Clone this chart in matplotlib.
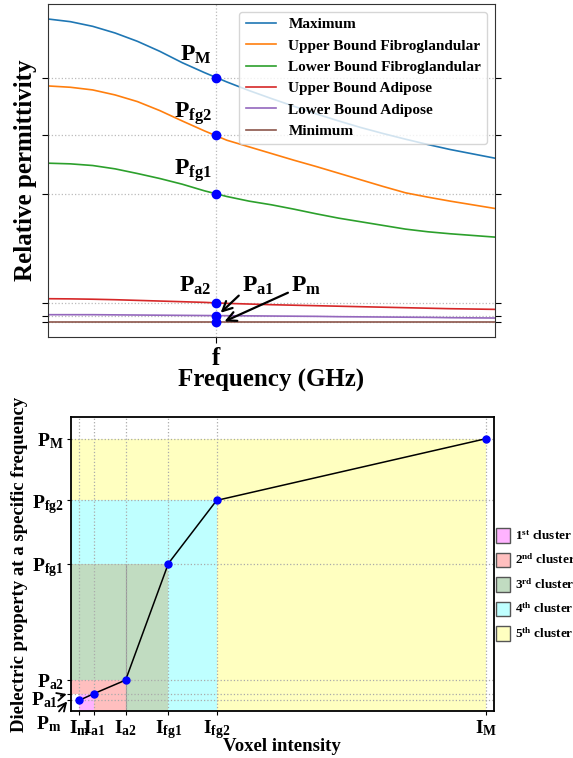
import numpy as np
import matplotlib
matplotlib.use('Agg')
import matplotlib.pyplot as plt
import matplotlib.patches as pch

plt.rcParams['font.family'] = ['Liberation Serif', 'DejaVu Serif']
plt.rcParams['font.weight'] = 'bold'
plt.rcParams['mathtext.fontset'] = 'custom'
plt.rcParams['mathtext.rm'] = 'Liberation Serif'
plt.rcParams['mathtext.bf'] = 'Liberation Serif:bold'
plt.rcParams['mathtext.it'] = 'Liberation Serif:italic:bold'

# ---- data: permittivity curves vs frequency (arbitrary units) ----
freq = [0.0, 0.05, 0.1, 0.15, 0.2, 0.25, 0.3, 0.35, 0.4, 0.45, 0.5,
        0.55, 0.6, 0.65, 0.7, 0.75, 0.8, 0.85, 0.9, 0.95, 1.0]
maximum = [95.5, 94.7, 93.3, 91.3, 88.8, 85.8, 82.4, 79.4, 76.6, 74.0, 71.6,
           69.3, 67.0, 64.9, 62.9, 61.1, 59.4, 57.8, 56.3, 55.0, 53.7]
upper_fg = [75.4, 75.0, 74.2, 72.7, 70.7, 68.0, 64.9, 61.9, 59.1, 57.1, 55.1,
            53.1, 51.2, 49.2, 47.2, 45.2, 43.3, 42.0, 40.8, 39.7, 38.6]
lower_fg = [52.2, 52.0, 51.5, 50.5, 49.1, 47.6, 45.9, 43.9, 42.2, 40.8, 39.7,
            38.4, 37.0, 35.7, 34.6, 33.5, 32.4, 31.6, 31.0, 30.5, 30.0]
upper_ad = [11.5, 11.45, 11.35, 11.2, 11.0, 10.8, 10.6, 10.4, 10.1, 9.9, 9.7,
            9.55, 9.4, 9.25, 9.1, 8.95, 8.8, 8.65, 8.5, 8.4, 8.3]
lower_ad = [6.7, 6.7, 6.7, 6.65, 6.6, 6.55, 6.5, 6.45, 6.4, 6.35, 6.3,
            6.25, 6.2, 6.1, 6.05, 6.0, 5.95, 5.9, 5.8, 5.75, 5.7]
minimum = [4.5, 4.5, 4.5, 4.5, 4.5, 4.5, 4.5, 4.5, 4.5, 4.5, 4.5,
           4.5, 4.5, 4.5, 4.5, 4.5, 4.5, 4.5, 4.5, 4.5, 4.5]
curve_names = ['Maximum', 'Upper Bound Fibroglandular', 'Lower Bound Fibroglandular',
               'Upper Bound Adipose', 'Lower Bound Adipose', 'Minimum']

f_sel = 0.375
# property values at the chosen frequency (ascending)
P_vals = [4.5, 6.4, 10.2, 42.9, 60.6, 77.9]
P_names = ['m', 'a1', 'a2', 'fg1', 'fg2', 'M']
# voxel intensity thresholds (ascending)
I_vals = [0.02, 0.055, 0.13, 0.231, 0.345, 0.981]

cluster_labels = [r'$\mathbf{1^{st}}$ cluster', r'$\mathbf{2^{nd}}$ cluster',
                  r'$\mathbf{3^{rd}}$ cluster', r'$\mathbf{4^{th}}$ cluster',
                  r'$\mathbf{5^{th}}$ cluster']
cluster_colors = ['#ffb3ff', '#ffbfbf', '#c1dcc1', '#bfffff', '#ffffc0']

fig = plt.figure(figsize=(5.73, 7.58), dpi=100)

# ================= top plot =================
ax = fig.add_axes([0.0838, 0.5554, 0.780, 0.4393])
for vals, name in zip([maximum, upper_fg, lower_fg, upper_ad, lower_ad, minimum], curve_names):
    ax.plot(freq, vals, lw=1.2, label=name)
ax.plot([f_sel] * len(P_vals), P_vals, 'o', color='blue', ms=6, zorder=5)

ax.set_xlim(0, 1)
ax.set_ylim(0, 100)
ax.set_xticks([f_sel])
ax.set_xticklabels(['f'], fontsize=18, fontweight='bold')
ax.set_yticks(P_vals)
ax.set_yticklabels([])
ax.tick_params(axis='y', which='both', right=True, left=True, direction='out', length=4)
ax.tick_params(axis='x', length=4)
ax.grid(True, linestyle=':', color='#bbbbbb', lw=0.9)
ax.set_xlabel('Frequency (GHz)', fontsize=18, fontweight='bold')
ax.set_ylabel('Relative permittivity', fontsize=18, fontweight='bold')
ax.xaxis.set_label_coords(0.5, -0.096)
ax.yaxis.set_label_coords(-0.025, 0.5)
for s in ax.spines.values():
    s.set_color('#333333')

leg = ax.legend(loc='upper right', fontsize=11, labelspacing=0.5, framealpha=0.8)
for t in leg.get_texts():
    t.set_fontweight('bold')

tsize = 17
ax.text(0.366, 81.5, r'$\mathbf{P_{M}}$', ha='right', va='bottom', fontsize=tsize)
ax.text(0.366, 63.0, r'$\mathbf{P_{fg2}}$', ha='right', va='bottom', fontsize=tsize)
ax.text(0.366, 46.0, r'$\mathbf{P_{fg1}}$', ha='right', va='bottom', fontsize=tsize)
ax.text(0.366, 12.0, r'$\mathbf{P_{a2}}$', ha='right', va='bottom', fontsize=tsize)
ax.annotate(r'$\mathbf{P_{a1}}$', xy=(0.384, 7.0), xytext=(0.433, 12.0),
            ha='left', va='bottom', fontsize=tsize,
            arrowprops=dict(arrowstyle='->', lw=1.6, color='black', relpos=(0.05, 0.25),
                            shrinkA=0, shrinkB=1))
ax.annotate(r'$\mathbf{P_{m}}$', xy=(0.392, 4.5), xytext=(0.543, 12.0),
            ha='left', va='bottom', fontsize=tsize,
            arrowprops=dict(arrowstyle='->', lw=1.6, color='black', relpos=(0.0, 0.25),
                            shrinkA=0, shrinkB=1))

# ================= bottom plot =================
bx = fig.add_axes([0.1232, 0.062, 0.7386, 0.3879])
y0, y1 = 1.53, 84.0
bx.set_xlim(0, 1)
bx.set_ylim(y0, y1)

Im, Ia1, Ia2, Ifg1, Ifg2, IM = I_vals
Pm, Pa1, Pa2, Pfg1, Pfg2, PM = P_vals
# coloured regions, largest first
bx.add_patch(pch.Rectangle((0, y0), IM, PM - y0, color=cluster_colors[4], lw=0))
bx.add_patch(pch.Rectangle((0, y0), Ifg2, Pfg2 - y0, color=cluster_colors[3], lw=0))
bx.add_patch(pch.Rectangle((0, y0), Ifg1, Pfg1 - y0, color=cluster_colors[2], lw=0))
bx.add_patch(pch.Rectangle((0, y0), Ia2, Pa2 - y0, color=cluster_colors[1], lw=0))
bx.add_patch(pch.Rectangle((0, y0), Im, Pa1 - y0, color='white', lw=0))
bx.add_patch(pch.Rectangle((Im, y0), Ia1 - Im, Pa1 - y0, color=cluster_colors[0], lw=0))
bx.vlines(Ia2, y0, Pfg1, color='#999999', lw=0.8, zorder=1.5)

bx.plot(I_vals, P_vals, '-', color='black', lw=1.1, zorder=4)
bx.plot(I_vals, P_vals, 'o', color='blue', ms=5, zorder=5)

bx.set_xticks(I_vals)
bx.set_xticklabels([r'$\mathbf{I_{%s}}$' % n for n in P_names], fontsize=14)
bx.set_yticks(P_vals)
bx.set_yticklabels(['', ''] + [r'$\mathbf{P_{%s}}$' % n for n in P_names[2:]], fontsize=14)
bx.tick_params(length=3, pad=2)
bx.grid(True, linestyle=':', color='#aaaaaa', lw=0.9, zorder=3)
bx.set_axisbelow(False)
for s in bx.spines.values():
    s.set_linewidth(1.3)
    s.set_zorder(6)

bx.annotate(r'$\mathbf{P_{a1}}$', xy=(-0.006, Pa1), xycoords='data',
            xytext=(-17, -5), textcoords='offset points', ha='center', va='center',
            fontsize=14, annotation_clip=False,
            arrowprops=dict(arrowstyle='->', lw=1.3, color='black', shrinkA=0, shrinkB=1))
bx.annotate(r'$\mathbf{P_{m}}$', xy=(-0.006, Pm), xycoords='data',
            xytext=(-14, -17), textcoords='offset points', ha='center', va='center',
            fontsize=14, annotation_clip=False,
            arrowprops=dict(arrowstyle='->', lw=1.3, color='black', shrinkA=0, shrinkB=1))

bx.set_xlabel('Voxel intensity', fontsize=13.5, fontweight='bold')
bx.set_ylabel('Dielectric property at a specific frequency', fontsize=13.5, fontweight='bold')
bx.xaxis.set_label_coords(0.5, -0.092)
bx.yaxis.set_label_coords(-0.0995, 0.5)

handles = [pch.Patch(facecolor=c, edgecolor='#555555', label=l)
           for c, l in zip(cluster_colors, cluster_labels)]
bleg = bx.legend(handles=handles, loc='center left', bbox_to_anchor=(1.0, 0.43),
                 fontsize=9.5, frameon=False, handlelength=1.0, handleheight=1.3,
                 handletextpad=0.4, labelspacing=0.75, borderaxespad=0.1, borderpad=0.1)

fig.savefig('out.png', dpi=100)
